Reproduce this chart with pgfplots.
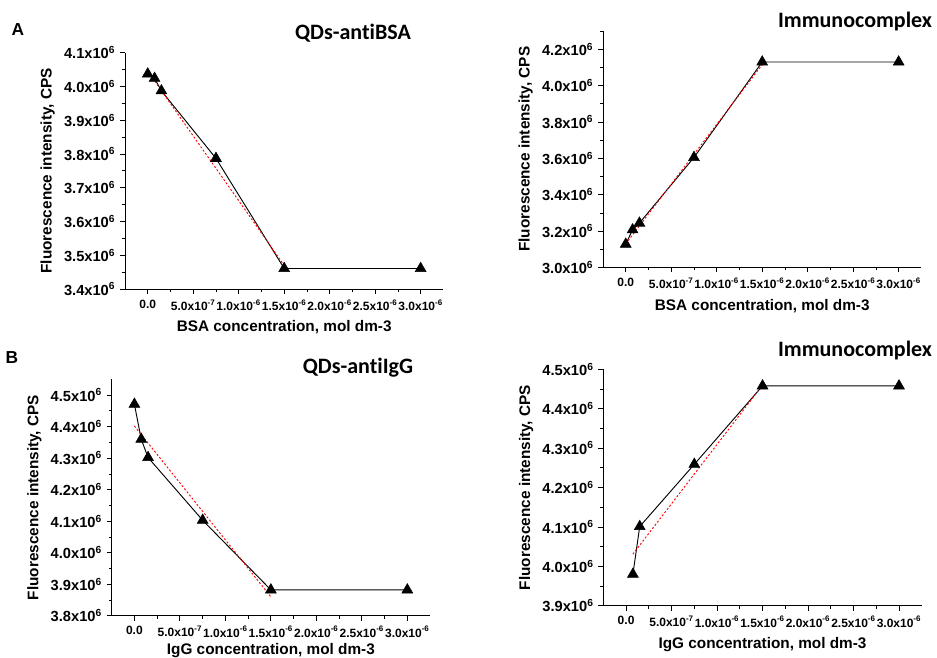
\documentclass[border=0pt]{standalone}
\usepackage{fontspec}
\setmainfont{Liberation Sans}
\newfontfamily\calibri[Ligatures=NoCommon]{Carlito}
\usepackage{pgfplots}
\pgfplotsset{compat=1.18}
\pgfplotsset{
 myax/.style={
  scale only axis, width=238.8pt, height=177.3pt,
  axis x line*=bottom, axis y line*=left, axis line style={-, line width=0.6pt},
  tick align=outside, major tick length=3.75pt, minor tick length=2.2pt,
  tick style={black, line width=0.6pt},
  xmin=-0.25e-6, xmax=3.25e-6,
  xtick={0,5e-7,1e-6,1.5e-6,2e-6,2.5e-6,3e-6},
  xticklabels={0.0, 5.0x10\textsuperscript{-7}, 1.0x10\textsuperscript{-6}, 1.5x10\textsuperscript{-6}, 2.0x10\textsuperscript{-6}, 2.5x10\textsuperscript{-6}, 3.0x10\textsuperscript{-6}},
  minor xtick={2.5e-7,7.5e-7,1.25e-6,1.75e-6,2.25e-6,2.75e-6},
  scaled ticks=false,
  x tick label style={font=\fontsize{9}{10}\selectfont\bfseries, inner sep=1pt, yshift=-3pt},
  y tick label style={font=\fontsize{11}{12}\selectfont\bfseries},
  label style={font=\fontsize{11.5}{13}\selectfont\bfseries},
  xlabel style={yshift=-3pt},
  clip=false,
 },
 dat/.style={black, line width=0.7pt},
 mk/.style={only marks, mark=triangle*, mark size=4.7pt, mark options={black, fill=black}},
 fit/.style={red, line width=0.7pt, dash pattern=on 1.5pt off 1.5pt}
}
\begin{document}
\begin{tikzpicture}
\path[use as bounding box] (0,0) rectangle (702.75pt,-492.75pt);

% A left
\begin{axis}[myax, at={(93.75pt,-39.5pt)}, anchor=north west,
  ymin=3.4e6, ymax=4.1e6,
  ytick={3.4e6,3.5e6,3.6e6,3.7e6,3.8e6,3.9e6,4.0e6,4.1e6},
  yticklabels={3.4x10\textsuperscript{6},3.5x10\textsuperscript{6},3.6x10\textsuperscript{6},3.7x10\textsuperscript{6},3.8x10\textsuperscript{6},3.9x10\textsuperscript{6},4.0x10\textsuperscript{6},4.1x10\textsuperscript{6}},
  minor ytick={3.45e6,3.55e6,3.65e6,3.75e6,3.85e6,3.95e6,4.05e6},
  xlabel={BSA concentration, mol dm-3},
  ylabel={Fluorescence intensity, CPS}]
\addplot[dat] coordinates {(0,4.037e6) (7.5e-8,4.024e6) (1.5e-7,3.987e6) (7.5e-7,3.787e6) (1.5e-6,3.461e6) (3e-6,3.461e6)};
\addplot[fit] coordinates {(0,4.045e6) (1.5e-6,3.47e6)};
\addplot[mk] coordinates {(0,4.037e6) (7.5e-8,4.024e6) (1.5e-7,3.987e6) (7.5e-7,3.787e6) (1.5e-6,3.461e6) (3e-6,3.461e6)};
\end{axis}

% A right
\begin{axis}[myax, at={(452.25pt,-23.3pt)}, anchor=north west,
  ymin=3.0e6, ymax=4.3e6,
  ytick={3.0e6,3.2e6,3.4e6,3.6e6,3.8e6,4.0e6,4.2e6},
  yticklabels={3.0x10\textsuperscript{6},3.2x10\textsuperscript{6},3.4x10\textsuperscript{6},3.6x10\textsuperscript{6},3.8x10\textsuperscript{6},4.0x10\textsuperscript{6},4.2x10\textsuperscript{6}},
  minor ytick={3.1e6,3.3e6,3.5e6,3.7e6,3.9e6,4.1e6,4.3e6},
  xlabel={BSA concentration, mol dm-3},
  ylabel={Fluorescence intensity, CPS}]
\addplot[dat] coordinates {(0,3.128e6) (7.5e-8,3.207e6) (1.5e-7,3.244e6) (7.5e-7,3.605e6) (1.5e-6,4.130e6) (3e-6,4.130e6)};
\addplot[fit] coordinates {(0,3.13e6) (1.5e-6,4.115e6)};
\addplot[mk] coordinates {(0,3.128e6) (7.5e-8,3.207e6) (1.5e-7,3.244e6) (7.5e-7,3.605e6) (1.5e-6,4.130e6) (3e-6,4.130e6)};
\end{axis}

% B left
\begin{axis}[myax, at={(83.75pt,-284.5pt)}, anchor=north west,
  ymin=3.8e6, ymax=4.55e6,
  ytick={3.8e6,3.9e6,4.0e6,4.1e6,4.2e6,4.3e6,4.4e6,4.5e6},
  yticklabels={3.8x10\textsuperscript{6},3.9x10\textsuperscript{6},4.0x10\textsuperscript{6},4.1x10\textsuperscript{6},4.2x10\textsuperscript{6},4.3x10\textsuperscript{6},4.4x10\textsuperscript{6},4.5x10\textsuperscript{6}},
  minor ytick={3.85e6,3.95e6,4.05e6,4.15e6,4.25e6,4.35e6,4.45e6},
  xlabel={IgG concentration, mol dm-3},
  xlabel style={yshift=2.5pt},
  ylabel={Fluorescence intensity, CPS}]
\addplot[dat] coordinates {(0,4.471e6) (7.5e-8,4.360e6) (1.5e-7,4.302e6) (7.5e-7,4.103e6) (1.5e-6,3.882e6) (3e-6,3.882e6)};
\addplot[fit] coordinates {(0,4.402e6) (1.5e-6,3.86e6)};
\addplot[mk] coordinates {(0,4.471e6) (7.5e-8,4.360e6) (1.5e-7,4.302e6) (7.5e-7,4.103e6) (1.5e-6,3.882e6) (3e-6,3.882e6)};
\end{axis}

% B right
\begin{axis}[myax, at={(452.5pt,-277pt)}, anchor=north west,
  ymin=3.9e6, ymax=4.5e6,
  ytick={3.9e6,4.0e6,4.1e6,4.2e6,4.3e6,4.4e6,4.5e6},
  yticklabels={3.9x10\textsuperscript{6},4.0x10\textsuperscript{6},4.1x10\textsuperscript{6},4.2x10\textsuperscript{6},4.3x10\textsuperscript{6},4.4x10\textsuperscript{6},4.5x10\textsuperscript{6}},
  minor ytick={3.95e6,4.05e6,4.15e6,4.25e6,4.35e6,4.45e6},
  xlabel={IgG concentration, mol dm-3},
  ylabel={Fluorescence intensity, CPS}]
\addplot[dat] coordinates {(7.5e-8,3.980e6) (1.5e-7,4.101e6) (7.5e-7,4.259e6) (1.5e-6,4.458e6) (3e-6,4.458e6)};
\addplot[fit] coordinates {(7.5e-8,4.031e6) (1.5e-6,4.46e6)};
\addplot[mk] coordinates {(7.5e-8,3.980e6) (1.5e-7,4.101e6) (7.5e-7,4.259e6) (1.5e-6,4.458e6) (3e-6,4.458e6)};
\end{axis}

\node[font=\calibri\bfseries\fontsize{16.5}{18}\selectfont] at (264.75pt,-24.75pt) {QDs-antiBSA};
\node[font=\calibri\bfseries\fontsize{16.5}{18}\selectfont] at (641.25pt,-16.5pt) {Immunocomplex};
\node[font=\calibri\bfseries\fontsize{16.5}{18}\selectfont] at (268.5pt,-276pt) {QDs-antiIgG};
\node[font=\calibri\bfseries\fontsize{16.5}{18}\selectfont] at (641.25pt,-263.25pt) {Immunocomplex};
\node[font=\bfseries\fontsize{13}{14}\selectfont] at (13.5pt,-22.5pt) {A};
\node[font=\bfseries\fontsize{13}{14}\selectfont] at (9pt,-268.5pt) {B};
\end{tikzpicture}
\end{document}
